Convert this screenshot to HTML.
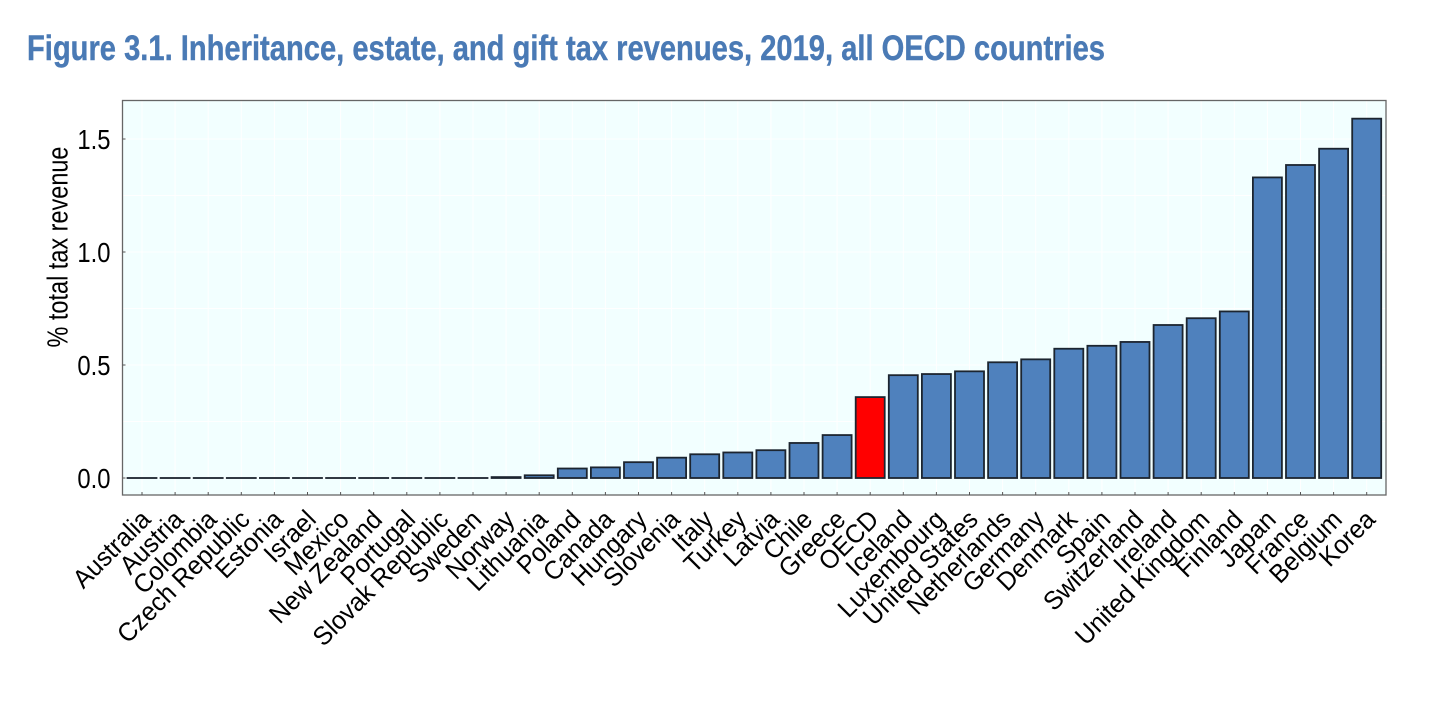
<!DOCTYPE html>
<html lang="en">
<head>
<meta charset="utf-8">
<title>Figure 3.1. Inheritance, estate, and gift tax revenues, 2019</title>
<style>
  html, body { margin: 0; padding: 0; background: #ffffff; }
  body { width: 1456px; height: 720px; overflow: hidden; }
  svg { display: block; font-family: "Liberation Sans", sans-serif; }
</style>
</head>
<body>
<svg id="chart" xmlns="http://www.w3.org/2000/svg" width="1456" height="720" viewBox="0 0 1456 720">
  <rect x="0" y="0" width="1456" height="720" fill="#ffffff"/>
  <text id="title" x="27" y="60" font-size="35" font-weight="bold" fill="#4a7ab5" stroke="#4a7ab5" stroke-width="0.4" textLength="1078" lengthAdjust="spacingAndGlyphs">Figure 3.1. Inheritance, estate, and gift tax revenues, 2019, all OECD countries</text>
  <rect x="122.5" y="100.5" width="1263.5" height="394.5" fill="#f2ffff"/>
  <g id="grid"></g>
  <g id="bars"></g>
  <rect x="122.5" y="100.5" width="1263.5" height="394.5" fill="none" stroke="#666666" stroke-width="1.3"/>
  <g id="axes"></g>
  <text transform="translate(67.5 247) rotate(-90) scale(0.81 1)" text-anchor="middle" font-size="29" fill="#000000">% total tax revenue</text>
</svg>
<script>
const categories = ["Australia","Austria","Colombia","Czech Republic","Estonia","Israel","Mexico","New Zealand","Portugal","Slovak Republic","Sweden","Norway","Lithuania","Poland","Canada","Hungary","Slovenia","Italy","Turkey","Latvia","Chile","Greece","OECD","Iceland","Luxembourg","United States","Netherlands","Germany","Denmark","Spain","Switzerland","Ireland","United Kingdom","Finland","Japan","France","Belgium","Korea"];
const values = [0,0,0,0,0,0,0,0,0,0,0,0.004,0.012,0.042,0.047,0.07,0.09,0.105,0.113,0.123,0.155,0.19,0.358,0.455,0.46,0.472,0.512,0.525,0.572,0.585,0.602,0.677,0.707,0.737,1.33,1.385,1.457,1.59];
const highlightCategory = "OECD";
const yTickLabels = ["0.0","0.5","1.0","1.5"];
const yGridValues = [0,0.25,0.5,0.75,1,1.25,1.5];

const NS = "http://www.w3.org/2000/svg";
const plot = { left: 122.5, right: 1386, top: 100.5, bottom: 495 };
const firstCenter = 142;
const step = 33.1;
const barWidth = 29;
function xScale(i) { return firstCenter + i * step; }
function yScale(v) { return 478 - v * 226; }
function mk(tag, attrs, parent) {
  const el = document.createElementNS(NS, tag);
  for (const k in attrs) el.setAttribute(k, attrs[k]);
  parent.appendChild(el);
  return el;
}
const gridG = document.getElementById("grid");
const barsG = document.getElementById("bars");
const axesG = document.getElementById("axes");

yGridValues.forEach(function (v) {
  const line = mk("line", { x1: plot.left, x2: plot.right, y1: yScale(v), y2: yScale(v), stroke: "#ffffff", "stroke-width": 1 }, gridG);
  
  
});
categories.forEach(function (name, i) {
  const line = mk("line", { x1: xScale(i), x2: xScale(i), y1: plot.top, y2: plot.bottom, stroke: "#ffffff", "stroke-width": 1 }, gridG);
  
  
});
categories.forEach(function (name, i) {
  const v = values[i];
  const top = yScale(v);
  const bar = mk("rect", {
    x: xScale(i) - barWidth / 2,
    y: top,
    width: barWidth,
    height: Math.max(yScale(0) - top, 0.01),
    fill: name === highlightCategory ? "#ff0000" : "#4f81bd",
    stroke: "#1c2530",
    "stroke-width": 1.8
  }, barsG);
  
  

  const tick = mk("line", { x1: xScale(i), x2: xScale(i), y1: plot.bottom - 3, y2: plot.bottom, stroke: "#555555", "stroke-width": 1 }, axesG);
  
  

  const label = mk("text", {
    transform: "translate(" + (xScale(i) + 10) + " 521) rotate(-45) scale(0.96 1)",
    "text-anchor": "end",
    "font-size": 26,
    fill: "#000000"
  }, axesG);
  label.textContent = name;
  
  
});
yTickLabels.forEach(function (t) {
  const v = parseFloat(t);
  const tick = mk("line", { x1: plot.left, x2: plot.left + 3, y1: yScale(v), y2: yScale(v), stroke: "#555555", "stroke-width": 1 }, axesG);
  
  

  const label = mk("text", {
    transform: "translate(110.5 " + (yScale(v) + 10) + ") scale(0.85 1)",
    "text-anchor": "end",
    "font-size": 28,
    fill: "#000000"
  }, axesG);
  label.textContent = t;
  
  
});
</script>
</body>
</html>
